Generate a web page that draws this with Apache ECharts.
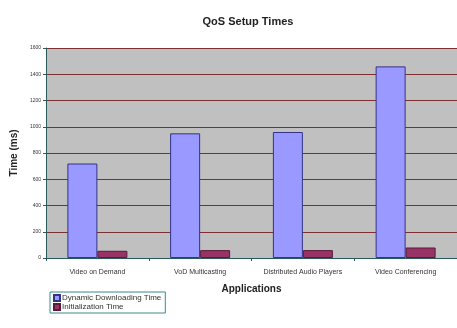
<!DOCTYPE html>
<html>
<head>
<meta charset="utf-8">
<script src="https://cdn.jsdelivr.net/npm/echarts@6/dist/echarts.min.js"></script>
<style>
    html, body { margin: 0; padding: 0; background: #fff; }
    #chart { width: 457px; height: 328px; }
</style>
</head>
<body>
<div id="chart"></div>
<script>
    var categories = ['Video on Demand', 'VoD Multicasting', 'Distributed Audio Players', 'Video Conferencing'];
    var downloadTimes = [720, 950, 960, 1460];
    var initTimes = [55, 60, 60, 80];
    var seriesNames = ['Dynamic Downloading Time', 'Initialization Time'];

    var myChart = echarts.init(document.getElementById('chart'));
    var option = {
        backgroundColor: '#fff',
        animation: false,
        title: {
            text: 'QoS Setup Times',
            left: 243,
            textAlign: 'center',
            top: 11,
            textStyle: { fontFamily: 'Liberation Sans', fontSize: 11, fontWeight: 'bold', color: '#222' }
        },
        legend: {
            data: seriesNames,
            orient: 'vertical',
            left: 50,
            top: 292,
            padding: [2, 4, 2, 3],
            itemGap: 1,
            itemWidth: 6,
            itemHeight: 6,
            icon: 'rect',
            borderColor: '#3a8a8a',
            borderWidth: 1,
            backgroundColor: '#fff',
            textStyle: { fontFamily: 'Liberation Sans', fontSize: 8, color: '#333', padding: [0, 0, 0, -3] }
        },
        grid: {
            left: 46,
            top: 48,
            width: 413,
            height: 210,
            backgroundColor: '#c0c0c0',
            show: true,
            borderWidth: 0
        },
        xAxis: {
            type: 'category',
            data: categories,
            name: 'Applications',
            nameLocation: 'middle',
            nameGap: 26,
            nameTextStyle: { fontFamily: 'Liberation Sans', fontSize: 10, fontWeight: 'bold', color: '#222' },
            axisLine: { lineStyle: { color: '#2a5a5a', width: 1 } },
            axisTick: { show: true, length: 3, lineStyle: { color: '#2a5a5a' } },
            axisLabel: { fontFamily: 'Liberation Sans', fontSize: 7, color: '#333', margin: 11 }
        },
        yAxis: {
            type: 'value',
            min: 0,
            max: 1600,
            interval: 200,
            name: 'Time (ms)',
            nameLocation: 'middle',
            nameGap: 18,
            nameTextStyle: { fontFamily: 'Liberation Sans', fontSize: 10, fontWeight: 'bold', color: '#222' },
            axisLine: { show: true, lineStyle: { color: '#2a5a5a', width: 1 } },
            axisTick: { show: true, length: 3, lineStyle: { color: '#2a5a5a' } },
            axisLabel: {
                fontFamily: 'Liberation Sans', fontSize: 5, color: '#333', margin: 5,
                formatter: function (v) { return String(v); }
            },
            splitLine: { show: true, lineStyle: { color: '#7a3030', width: 1 } }
        },
        series: [
            {
                name: seriesNames[0],
                type: 'bar',
                data: downloadTimes,
                barWidth: 30,
                barGap: '0%',
                itemStyle: { color: '#9999ff', borderColor: '#333388', borderWidth: 1 }
            },
            {
                name: seriesNames[1],
                type: 'bar',
                data: initTimes,
                barWidth: 30,
                barGap: '0%',
                itemStyle: { color: '#993366', borderColor: '#5a1a3a', borderWidth: 1 }
            }
        ]
    };
    myChart.setOption(option);
</script>
</body>
</html>
